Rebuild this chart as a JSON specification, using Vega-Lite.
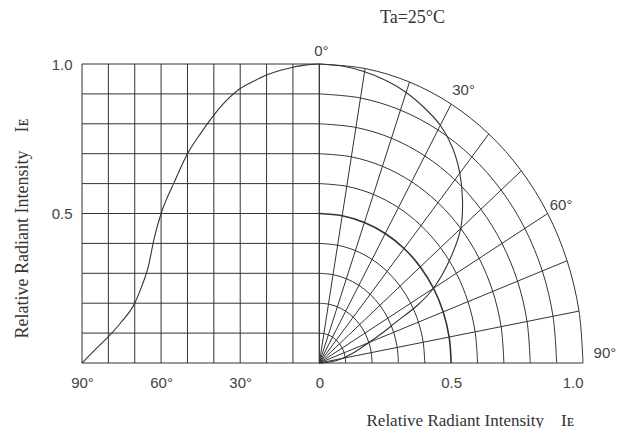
{
  "$schema": "https://vega.github.io/schema/vega-lite/v6.json",
  "width": 501,
  "height": 299,
  "autosize": {"type": "none"},
  "padding": {"left": 82, "top": 64, "right": 42, "bottom": 65},
  "background": "white",
  "config": {"view": {"stroke": null}},
  "title": {"text": "Ta=25°C", "frame": "group", "anchor": "middle", "dx": 80, "offset": 3, "baseline": "alphabetic", "font": "Liberation Serif", "fontSize": 18, "fontWeight": "normal", "color": "#333"},
  "datasets": {
    "vgrid": [{"v": -0.9}, {"v": -0.8}, {"v": -0.7}, {"v": -0.6}, {"v": -0.5}, {"v": -0.4}, {"v": -0.3}, {"v": -0.2}, {"v": -0.1}, {"v": 0}],
    "hgrid": [{"h": 0}, {"h": 0.1}, {"h": 0.2}, {"h": 0.3}, {"h": 0.4}, {"h": 0.5}, {"h": 0.6}, {"h": 0.7}, {"h": 0.8}, {"h": 0.9}, {"h": 1}],
    "radial": [
      {"a": 0, "p": 0, "x": 0, "y": 0}, {"a": 0, "p": 1, "x": 0, "y": 1},
      {"a": 10, "p": 0, "x": 0, "y": 0}, {"a": 10, "p": 1, "x": 0.1736, "y": 0.9848},
      {"a": 20, "p": 0, "x": 0, "y": 0}, {"a": 20, "p": 1, "x": 0.342, "y": 0.9397},
      {"a": 30, "p": 0, "x": 0, "y": 0}, {"a": 30, "p": 1, "x": 0.5, "y": 0.866},
      {"a": 40, "p": 0, "x": 0, "y": 0}, {"a": 40, "p": 1, "x": 0.6428, "y": 0.766},
      {"a": 50, "p": 0, "x": 0, "y": 0}, {"a": 50, "p": 1, "x": 0.766, "y": 0.6428},
      {"a": 60, "p": 0, "x": 0, "y": 0}, {"a": 60, "p": 1, "x": 0.866, "y": 0.5},
      {"a": 70, "p": 0, "x": 0, "y": 0}, {"a": 70, "p": 1, "x": 0.9397, "y": 0.342},
      {"a": 80, "p": 0, "x": 0, "y": 0}, {"a": 80, "p": 1, "x": 0.9848, "y": 0.1736},
      {"a": 90, "p": 0, "x": 0, "y": 0}, {"a": 90, "p": 1, "x": 1, "y": 0}
    ],
    "arcs": [
      {"r": 0.1, "a": 0, "x": 0, "y": 0.1}, {"r": 0.1, "a": 10, "x": 0.0174, "y": 0.0985}, {"r": 0.1, "a": 20, "x": 0.0342, "y": 0.094}, {"r": 0.1, "a": 30, "x": 0.05, "y": 0.0866}, {"r": 0.1, "a": 40, "x": 0.0643, "y": 0.0766}, {"r": 0.1, "a": 50, "x": 0.0766, "y": 0.0643}, {"r": 0.1, "a": 60, "x": 0.0866, "y": 0.05}, {"r": 0.1, "a": 70, "x": 0.094, "y": 0.0342}, {"r": 0.1, "a": 80, "x": 0.0985, "y": 0.0174}, {"r": 0.1, "a": 90, "x": 0.1, "y": 0},
      {"r": 0.2, "a": 0, "x": 0, "y": 0.2}, {"r": 0.2, "a": 10, "x": 0.0347, "y": 0.197}, {"r": 0.2, "a": 20, "x": 0.0684, "y": 0.1879}, {"r": 0.2, "a": 30, "x": 0.1, "y": 0.1732}, {"r": 0.2, "a": 40, "x": 0.1286, "y": 0.1532}, {"r": 0.2, "a": 50, "x": 0.1532, "y": 0.1286}, {"r": 0.2, "a": 60, "x": 0.1732, "y": 0.1}, {"r": 0.2, "a": 70, "x": 0.1879, "y": 0.0684}, {"r": 0.2, "a": 80, "x": 0.197, "y": 0.0347}, {"r": 0.2, "a": 90, "x": 0.2, "y": 0},
      {"r": 0.3, "a": 0, "x": 0, "y": 0.3}, {"r": 0.3, "a": 10, "x": 0.0521, "y": 0.2954}, {"r": 0.3, "a": 20, "x": 0.1026, "y": 0.2819}, {"r": 0.3, "a": 30, "x": 0.15, "y": 0.2598}, {"r": 0.3, "a": 40, "x": 0.1928, "y": 0.2298}, {"r": 0.3, "a": 50, "x": 0.2298, "y": 0.1928}, {"r": 0.3, "a": 60, "x": 0.2598, "y": 0.15}, {"r": 0.3, "a": 70, "x": 0.2819, "y": 0.1026}, {"r": 0.3, "a": 80, "x": 0.2954, "y": 0.0521}, {"r": 0.3, "a": 90, "x": 0.3, "y": 0},
      {"r": 0.4, "a": 0, "x": 0, "y": 0.4}, {"r": 0.4, "a": 10, "x": 0.0695, "y": 0.3939}, {"r": 0.4, "a": 20, "x": 0.1368, "y": 0.3759}, {"r": 0.4, "a": 30, "x": 0.2, "y": 0.3464}, {"r": 0.4, "a": 40, "x": 0.2571, "y": 0.3064}, {"r": 0.4, "a": 50, "x": 0.3064, "y": 0.2571}, {"r": 0.4, "a": 60, "x": 0.3464, "y": 0.2}, {"r": 0.4, "a": 70, "x": 0.3759, "y": 0.1368}, {"r": 0.4, "a": 80, "x": 0.3939, "y": 0.0695}, {"r": 0.4, "a": 90, "x": 0.4, "y": 0},
      {"r": 0.5, "a": 0, "x": 0, "y": 0.5}, {"r": 0.5, "a": 10, "x": 0.0868, "y": 0.4924}, {"r": 0.5, "a": 20, "x": 0.171, "y": 0.4698}, {"r": 0.5, "a": 30, "x": 0.25, "y": 0.433}, {"r": 0.5, "a": 40, "x": 0.3214, "y": 0.383}, {"r": 0.5, "a": 50, "x": 0.383, "y": 0.3214}, {"r": 0.5, "a": 60, "x": 0.433, "y": 0.25}, {"r": 0.5, "a": 70, "x": 0.4698, "y": 0.171}, {"r": 0.5, "a": 80, "x": 0.4924, "y": 0.0868}, {"r": 0.5, "a": 90, "x": 0.5, "y": 0},
      {"r": 0.6, "a": 0, "x": 0, "y": 0.6}, {"r": 0.6, "a": 10, "x": 0.1042, "y": 0.5909}, {"r": 0.6, "a": 20, "x": 0.2052, "y": 0.5638}, {"r": 0.6, "a": 30, "x": 0.3, "y": 0.5196}, {"r": 0.6, "a": 40, "x": 0.3857, "y": 0.4596}, {"r": 0.6, "a": 50, "x": 0.4596, "y": 0.3857}, {"r": 0.6, "a": 60, "x": 0.5196, "y": 0.3}, {"r": 0.6, "a": 70, "x": 0.5638, "y": 0.2052}, {"r": 0.6, "a": 80, "x": 0.5909, "y": 0.1042}, {"r": 0.6, "a": 90, "x": 0.6, "y": 0},
      {"r": 0.7, "a": 0, "x": 0, "y": 0.7}, {"r": 0.7, "a": 10, "x": 0.1216, "y": 0.6894}, {"r": 0.7, "a": 20, "x": 0.2394, "y": 0.6578}, {"r": 0.7, "a": 30, "x": 0.35, "y": 0.6062}, {"r": 0.7, "a": 40, "x": 0.45, "y": 0.5362}, {"r": 0.7, "a": 50, "x": 0.5362, "y": 0.45}, {"r": 0.7, "a": 60, "x": 0.6062, "y": 0.35}, {"r": 0.7, "a": 70, "x": 0.6578, "y": 0.2394}, {"r": 0.7, "a": 80, "x": 0.6894, "y": 0.1216}, {"r": 0.7, "a": 90, "x": 0.7, "y": 0},
      {"r": 0.8, "a": 0, "x": 0, "y": 0.8}, {"r": 0.8, "a": 10, "x": 0.1389, "y": 0.7878}, {"r": 0.8, "a": 20, "x": 0.2736, "y": 0.7518}, {"r": 0.8, "a": 30, "x": 0.4, "y": 0.6928}, {"r": 0.8, "a": 40, "x": 0.5142, "y": 0.6128}, {"r": 0.8, "a": 50, "x": 0.6128, "y": 0.5142}, {"r": 0.8, "a": 60, "x": 0.6928, "y": 0.4}, {"r": 0.8, "a": 70, "x": 0.7518, "y": 0.2736}, {"r": 0.8, "a": 80, "x": 0.7878, "y": 0.1389}, {"r": 0.8, "a": 90, "x": 0.8, "y": 0},
      {"r": 0.9, "a": 0, "x": 0, "y": 0.9}, {"r": 0.9, "a": 10, "x": 0.1563, "y": 0.8863}, {"r": 0.9, "a": 20, "x": 0.3078, "y": 0.8457}, {"r": 0.9, "a": 30, "x": 0.45, "y": 0.7794}, {"r": 0.9, "a": 40, "x": 0.5785, "y": 0.6894}, {"r": 0.9, "a": 50, "x": 0.6894, "y": 0.5785}, {"r": 0.9, "a": 60, "x": 0.7794, "y": 0.45}, {"r": 0.9, "a": 70, "x": 0.8457, "y": 0.3078}, {"r": 0.9, "a": 80, "x": 0.8863, "y": 0.1563}, {"r": 0.9, "a": 90, "x": 0.9, "y": 0},
      {"r": 1.0, "a": 0, "x": 0, "y": 1}, {"r": 1.0, "a": 10, "x": 0.1736, "y": 0.9848}, {"r": 1.0, "a": 20, "x": 0.342, "y": 0.9397}, {"r": 1.0, "a": 30, "x": 0.5, "y": 0.866}, {"r": 1.0, "a": 40, "x": 0.6428, "y": 0.766}, {"r": 1.0, "a": 50, "x": 0.766, "y": 0.6428}, {"r": 1.0, "a": 60, "x": 0.866, "y": 0.5}, {"r": 1.0, "a": 70, "x": 0.9397, "y": 0.342}, {"r": 1.0, "a": 80, "x": 0.9848, "y": 0.1736}, {"r": 1.0, "a": 90, "x": 1, "y": 0}
    ],
    "curve": [
      {"angle": 0, "I": 1.0, "cx": 0, "px": 0, "py": 1},
      {"angle": 5, "I": 0.997, "cx": -0.05, "px": 0.0869, "py": 0.9932},
      {"angle": 10, "I": 0.989, "cx": -0.1, "px": 0.1717, "py": 0.974},
      {"angle": 15, "I": 0.978, "cx": -0.15, "px": 0.2531, "py": 0.9447},
      {"angle": 20, "I": 0.963, "cx": -0.2, "px": 0.3294, "py": 0.9049},
      {"angle": 25, "I": 0.942, "cx": -0.25, "px": 0.3981, "py": 0.8537},
      {"angle": 30, "I": 0.918, "cx": -0.3, "px": 0.459, "py": 0.795},
      {"angle": 35, "I": 0.88, "cx": -0.35, "px": 0.5047, "py": 0.7209},
      {"angle": 40, "I": 0.829, "cx": -0.4, "px": 0.5329, "py": 0.635},
      {"angle": 45, "I": 0.768, "cx": -0.45, "px": 0.5431, "py": 0.5431},
      {"angle": 50, "I": 0.7, "cx": -0.5, "px": 0.5362, "py": 0.45},
      {"angle": 55, "I": 0.605, "cx": -0.55, "px": 0.4956, "py": 0.347},
      {"angle": 60, "I": 0.5, "cx": -0.6, "px": 0.433, "py": 0.25},
      {"angle": 62.5, "I": 0.422, "cx": -0.625, "px": 0.3743, "py": 0.1949},
      {"angle": 65, "I": 0.317, "cx": -0.65, "px": 0.2873, "py": 0.134},
      {"angle": 67.5, "I": 0.253, "cx": -0.675, "px": 0.2337, "py": 0.0968},
      {"angle": 70, "I": 0.2, "cx": -0.7, "px": 0.1879, "py": 0.0684},
      {"angle": 75, "I": 0.138, "cx": -0.75, "px": 0.1333, "py": 0.0357},
      {"angle": 80, "I": 0.088, "cx": -0.8, "px": 0.0867, "py": 0.0153},
      {"angle": 85, "I": 0.045, "cx": -0.85, "px": 0.0448, "py": 0.0039},
      {"angle": 90, "I": 0, "cx": -0.9, "px": 0, "py": 0}
    ],
    "angleLabels": [
      {"label": "0°", "x": 0.008, "y": 1.045},
      {"label": "30°", "x": 0.547, "y": 0.912},
      {"label": "60°", "x": 0.917, "y": 0.528},
      {"label": "90°", "x": 1.083, "y": 0.033}
    ]
  },
  "layer": [
    {
      "data": {"name": "vgrid"},
      "mark": {"type": "rule", "color": "#333", "strokeWidth": 1},
      "encoding": {
        "x": {
          "field": "v", "type": "quantitative",
          "scale": {"domain": [-0.9, 1.0], "nice": false, "zero": false},
          "axis": {
            "values": [-0.9, -0.6, -0.3, 0, 0.5, 1],
            "labelExpr": "datum.value < 0 ? format(-datum.value * 100, 'd') + '°' : (datum.value == 0 ? '0' : format(datum.value, '.1f'))",
            "domain": false, "ticks": false, "grid": false,
            "labelFlush": false,
            "labelPadding": 12,
            "labelFont": "Liberation Sans", "labelFontSize": 15, "labelColor": "#444",
            "labelAlign": {"condition": {"test": "datum.value == 1", "value": "right"}, "value": "center"},
            "title": "Relative Radiant Intensity\u2003Iᴇ",
            "titleFont": "Liberation Serif", "titleFontSize": 17, "titleFontWeight": "normal", "titleColor": "#333",
            "titleAlign": "left", "titleX": 284, "titleY": 62, "titleBaseline": "alphabetic"
          }
        },
        "y": {
          "datum": 0, "type": "quantitative",
          "scale": {"domain": [0, 1], "nice": false, "zero": false},
          "axis": {
            "values": [0.5, 1],
            "labelExpr": "format(datum.value, '.1f')",
            "domain": false, "ticks": false, "grid": false,
            "labelFlush": false,
            "labelPadding": 10,
            "labelFont": "Liberation Sans", "labelFontSize": 15, "labelColor": "#444",
            "title": "Relative Radiant Intensity\u2003Iᴇ",
            "titleFont": "Liberation Serif", "titleFontSize": 18, "titleFontWeight": "normal", "titleColor": "#333",
            "titleAngle": 270, "titleAlign": "center", "titleBaseline": "alphabetic",
            "titleX": -55, "titleY": 164
          }
        },
        "y2": {"datum": 1}
      }
    },
    {
      "data": {"name": "hgrid"},
      "mark": {"type": "rule", "color": "#333", "strokeWidth": 1},
      "encoding": {
        "y": {"field": "h", "type": "quantitative", "scale": {"domain": [0, 1], "nice": false, "zero": false}},
        "x": {"datum": -0.9, "type": "quantitative", "scale": {"domain": [-0.9, 1.0], "nice": false, "zero": false}},
        "x2": {"datum": 0}
      }
    },
    {
      "data": {"name": "radial"},
      "mark": {"type": "line", "color": "#333", "strokeWidth": 1},
      "encoding": {
        "x": {"field": "x", "type": "quantitative", "scale": {"domain": [-0.9, 1.0], "nice": false, "zero": false}},
        "y": {"field": "y", "type": "quantitative", "scale": {"domain": [0, 1], "nice": false, "zero": false}},
        "detail": {"field": "a", "type": "nominal"},
        "order": {"field": "p", "type": "quantitative"}
      }
    },
    {
      "data": {"name": "arcs"},
      "mark": {"type": "line", "color": "#333", "interpolate": "catmull-rom"},
      "encoding": {
        "x": {"field": "x", "type": "quantitative", "scale": {"domain": [-0.9, 1.0], "nice": false, "zero": false}},
        "y": {"field": "y", "type": "quantitative", "scale": {"domain": [0, 1], "nice": false, "zero": false}},
        "detail": {"field": "r", "type": "nominal"},
        "order": {"field": "a", "type": "quantitative"},
        "strokeWidth": {"condition": {"test": "datum.r == 0.5", "value": 1.6}, "value": 1}
      }
    },
    {
      "data": {"name": "curve"},
      "mark": {"type": "line", "color": "#333", "strokeWidth": 1.1, "interpolate": "monotone"},
      "encoding": {
        "x": {"field": "cx", "type": "quantitative", "scale": {"domain": [-0.9, 1.0], "nice": false, "zero": false}},
        "y": {"field": "I", "type": "quantitative", "scale": {"domain": [0, 1], "nice": false, "zero": false}},
        "order": {"field": "cx", "type": "quantitative"}
      }
    },
    {
      "data": {"name": "curve"},
      "mark": {"type": "line", "color": "#333", "strokeWidth": 1.1, "interpolate": "catmull-rom"},
      "encoding": {
        "x": {"field": "px", "type": "quantitative", "scale": {"domain": [-0.9, 1.0], "nice": false, "zero": false}},
        "y": {"field": "py", "type": "quantitative", "scale": {"domain": [0, 1], "nice": false, "zero": false}},
        "order": {"field": "angle", "type": "quantitative"}
      }
    },
    {
      "data": {"name": "angleLabels"},
      "mark": {"type": "text", "font": "Liberation Sans", "fontSize": 15, "color": "#444", "align": "center", "baseline": "middle"},
      "encoding": {
        "x": {"field": "x", "type": "quantitative", "scale": {"domain": [-0.9, 1.0], "nice": false, "zero": false}},
        "y": {"field": "y", "type": "quantitative", "scale": {"domain": [0, 1], "nice": false, "zero": false}},
        "text": {"field": "label", "type": "nominal"}
      }
    }
  ]
}
